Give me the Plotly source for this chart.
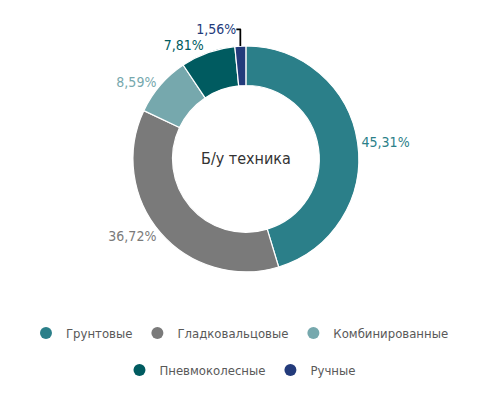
import plotly.graph_objects as go

categories = ["Грунтовые", "Гладковальцовые", "Комбинированные", "Пневмоколесные", "Ручные"]
values = [58, 47, 11, 10, 2]
colors = ["#2B7F89", "#7A7A7A", "#76A8AD", "#005B60", "#233B7B"]
center_title = "Б/у техника"

total = sum(values)
pct_text = [f"{v / total * 100:.2f}".replace(".", ",") + "%" for v in values]

FONT = "DejaVu Sans Condensed, sans-serif"

fig = go.Figure()
fig.add_trace(go.Pie(
    labels=categories,
    values=values,
    text=pct_text,
    textinfo="text",
    textposition="outside",
    outsidetextfont=dict(color=colors, size=14, family=FONT),
    marker=dict(colors=colors, line=dict(color="white", width=1.2)),
    hole=0.65,
    sort=False,
    direction="clockwise",
    rotation=0,
    showlegend=False,
    domain=dict(x=[0.254, 0.713], y=[0.330, 0.904]),
    hoverinfo="label+text",
))

for i, (name, col) in enumerate(zip(categories, colors)):
    fig.add_trace(go.Scatter(
        x=[None], y=[None], mode="markers", name=name,
        marker=dict(symbol="circle", size=16, color=col),
        legend="legend" if i < 3 else "legend2",
    ))

legend_common = dict(
    orientation="h", xanchor="center", x=0.4715, yanchor="middle",
    font=dict(family=FONT, size=13, color="#595959"),
    bgcolor="rgba(0,0,0,0)", itemsizing="constant", itemwidth=30,
)
fig.update_layout(
    width=492, height=394,
    margin=dict(l=0, r=0, t=0, b=0, autoexpand=False),
    paper_bgcolor="white", plot_bgcolor="white",
    font=dict(family=FONT),
    xaxis=dict(visible=False), yaxis=dict(visible=False),
    legend=dict(**legend_common, y=0.175),
    legend2=dict(**legend_common, y=0.0812),
    annotations=[dict(
        text=center_title, x=0.4837, y=0.617, xref="paper", yref="paper",
        showarrow=False, font=dict(family=FONT, size=16, color="#333333"),
    )],
)

fig.write_html("out.html")
